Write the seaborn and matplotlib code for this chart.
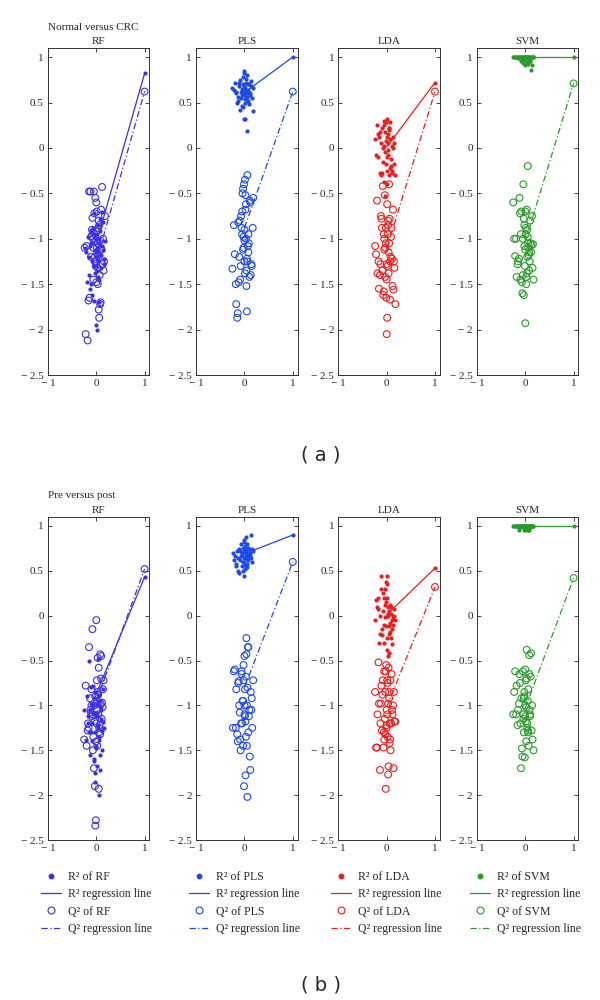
import matplotlib
matplotlib.use("Agg")
import matplotlib.pyplot as plt
from matplotlib.lines import Line2D
import seaborn as sns

# --- data ---------------------------------------------------------------
methods = ["RF", "PLS", "LDA", "SVM"]
row_titles = ["Normal versus CRC", "Pre versus post"]
panel_tags = ["( a )", "( b )"]
colors = ["#3b30e6", "#1f48ea", "#ee1c1c", "#2a9a2a"]

# original (non-permuted) model, plotted at x = 1
r2_orig_a = [0.82, 1.0, 0.72, 1.0]
q2_orig_a = [0.62, 0.62, 0.62, 0.71]
r2_orig_b = [0.43, 0.90, 0.53, 1.0]
q2_orig_b = [0.52, 0.60, 0.32, 0.42]

# regression line intercepts (x = 0)
r2_int_a = [-1.05, 0.61, 0.01, 1.0]
q2_int_a = [-1.25, -0.88, -1.11, -1.03]
r2_int_b = [-0.87, 0.69, 0.01, 1.0]
q2_int_b = [-0.95, -0.80, -1.02, -1.03]

# permutations: (a) Normal versus CRC
x_a_rf = [-0.22, -0.18, -0.15, -0.12, -0.1, -0.08, -0.06, -0.05, -0.04, -0.03, -0.02, -0.01, 0.0, 0.01, 0.02, 0.03, 0.04,
          0.05, 0.06, 0.08, 0.1, 0.12, 0.15, 0.18, -0.2, -0.14, -0.09, -0.07, -0.03, 0.0, 0.02, 0.05, 0.07, 0.09, 0.11,
          0.14, -0.16, -0.11, -0.04, 0.01, 0.03, 0.06, 0.13, -0.24, -0.06, 0.0, 0.04, 0.08, -0.1, 0.16]
r2_a_rf = [-1.15, -0.98, -1.4, -1.08, -0.9, -1.25, -1.05, -0.72, -1.3, -1.12, -0.95, -1.2, -1.0, -1.35, -1.1, -0.85, -1.22,
           -1.45, -1.05, -0.78, -1.18, -0.7, -1.28, -1.02, -1.48, -1.55, -1.62, -0.88, -1.38, -1.95, -1.15, -1.7, -0.92,
           -1.32, -1.08, -0.82, -1.2, -1.5, -1.68, -2.0, -1.25, -1.0, -1.12, -1.1, -0.95, -1.3, -1.42, -1.18, -1.05, -1.22]
q2_a_rf = [-2.05, -2.12, -0.48, -0.48, -0.98, -0.77, -1.1, -0.48, -0.72, -1.2, -0.55, -1.3, -0.6, -0.7, -1.05, -1.5, -0.88,
           -1.78, -1.87, -1.72, -0.68, -0.43, -1.35, -0.75, -1.08, -1.65, -0.9, -1.0, -1.25, -1.48, -1.15, -0.8, -1.4,
           -1.7, -1.12, -1.0, -1.68, -1.2, -0.95, -1.1, -1.32, -0.85, -1.28, -1.1, -1.45, -0.92, -1.18, -1.02, -0.97, -1.25]

x_a_pls = [-0.2, -0.17, -0.14, -0.12, -0.1, -0.08, -0.06, -0.05, -0.04, -0.03, -0.02, -0.01, 0.0, 0.0, 0.01, 0.02, 0.03,
           0.04, 0.05, 0.06, 0.07, 0.08, 0.1, 0.12, 0.14, 0.17, -0.22, -0.15, -0.09, -0.07, -0.02, 0.01, 0.03, 0.05, 0.09,
           0.11, 0.15, -0.18, -0.11, -0.05, 0.0, 0.04, 0.08, 0.13, -0.25, -0.13, 0.02, 0.06, -0.03, 0.18]
r2_a_pls = [0.72, 0.6, 0.52, 0.68, 0.75, 0.55, 0.65, 0.46, 0.7, 0.78, 0.58, 0.62, 0.85, 0.32, 0.66, 0.5, 0.72, 0.6, 0.8,
            0.56, 0.7, 0.64, 0.48, 0.58, 0.74, 0.66, 0.64, 0.5, 0.42, 0.62, 0.68, 0.54, 0.76, 0.19, 0.7, 0.6, 0.55, 0.62,
            0.72, 0.58, 0.82, 0.64, 0.52, 0.68, 0.66, 0.56, 0.32, 0.6, 0.45, 0.41]
q2_a_pls = [-1.17, -1.72, -1.82, -1.48, -0.8, -1.3, -0.88, -0.7, -0.5, -0.45, -0.98, -0.4, -1.25, -0.9, -0.35, -0.52, -1.0,
            -1.52, -1.8, -0.3, -1.08, -0.95, -1.42, -0.6, -1.28, -0.88, -0.85, -1.87, -1.45, -0.75, -1.1, -1.38, -0.62,
            -1.22, -1.05, -0.58, -1.3, -1.5, -1.2, -0.95, -1.02, -1.35, -1.15, -1.4, -1.33, -0.82, -0.68, -1.25, -1.12, -0.55]

x_a_lda = [-0.24, -0.2, -0.16, -0.13, -0.11, -0.09, -0.07, -0.06, -0.05, -0.04, -0.03, -0.02, -0.01, 0.0, 0.0, 0.01, 0.02,
           0.03, 0.04, 0.05, 0.06, 0.08, 0.1, 0.12, 0.15, 0.18, -0.22, -0.14, -0.1, -0.06, -0.02, 0.01, 0.03, 0.07, 0.09,
           0.13, 0.16, -0.17, -0.12, -0.08, 0.0, 0.05, 0.11, -0.03, 0.02, 0.14, -0.19, 0.07, -0.05, 0.04]
r2_a_lda = [0.1, 0.25, 0.12, -0.28, 0.05, 0.22, -0.15, 0.3, -0.38, 0.18, -0.05, 0.28, 0.08, -0.1, 0.32, -0.25, 0.15, -0.02,
            0.22, -0.3, 0.1, -0.2, 0.02, -0.28, 0.05, -0.3, -0.08, 0.18, -0.28, 0.25, -0.18, 0.12, -0.08, 0.28, -0.12, 0.0,
            -0.18, 0.15, -0.3, 0.0, -0.4, 0.22, -0.25, -0.53, 0.05, 0.12, -0.1, -0.22, 0.02, 0.2]
q2_a_lda = [-1.08, -0.58, -1.55, -1.28, -0.78, -1.35, -1.62, -0.95, -1.12, -0.52, -1.42, -0.88, -1.65, -1.28, -2.05, -0.62,
            -1.3, -0.85, -1.38, -1.05, -0.78, -1.2, -0.88, -1.52, -1.25, -1.72, -1.17, -1.4, -0.88, -1.58, -1.05, -1.87,
            -0.8, -1.25, -0.98, -0.68, -1.32, -1.25, -0.75, -0.42, -1.45, -0.4, -1.22, -1.1, -0.95, -1.56, -1.38, -1.67,
            -1.0, -1.15]

x_a_svm = [-0.25, -0.21, -0.18, -0.15, -0.12, -0.1, -0.08, -0.07, -0.05, -0.04, -0.03, -0.02, -0.01, 0.0, 0.0, 0.01, 0.02,
           0.03, 0.04, 0.05, 0.06, 0.08, 0.1, 0.12, 0.14, 0.17, -0.23, -0.16, -0.11, -0.06, -0.02, 0.01, 0.03, 0.05, 0.07,
           0.09, 0.11, 0.15, -0.13, -0.09, -0.03, 0.02, 0.06, 0.13, -0.19, 0.04, 0.08, -0.05, 0.0, 0.16]
r2_a_svm = [1.0, 1.0, 1.0, 1.0, 0.99, 1.0, 0.96, 1.0, 0.99, 0.94, 1.0, 0.98, 1.0, 0.91, 1.0, 0.99, 1.0, 0.95, 1.0, 0.92,
            1.0, 0.98, 0.96, 0.86, 1.0, 1.0, 1.0, 0.99, 1.0, 1.0, 0.97, 1.0, 1.0, 0.99, 1.0, 0.96, 1.0, 1.0, 1.0, 0.98,
            1.0, 1.0, 0.95, 0.91, 1.0, 1.0, 1.0, 0.97, 1.0, 1.0]
q2_a_svm = [-0.6, -1.19, -1.42, -1.25, -0.55, -1.45, -0.7, -1.48, -1.0, -0.4, -1.62, -0.85, -1.3, -1.93, -1.12, -0.95, -1.5,
            -0.68, -1.2, -0.2, -1.05, -1.35, -0.8, -1.15, -0.75, -1.45, -1.0, -1.28, -0.72, -1.6, -1.08, -0.88, -1.38,
            -0.98, -1.18, -1.25, -1.05, -1.32, -1.22, -0.95, -0.78, -1.42, -1.1, -1.07, -1.0, -0.9, -1.15, -1.4, -0.7, -1.06]

# permutations: (b) Pre versus post
x_b_rf = [-0.25, -0.22, -0.18, -0.15, -0.12, -0.1, -0.08, -0.07, -0.05, -0.04, -0.03, -0.02, -0.01, 0.0, 0.0, 0.01, 0.02,
          0.03, 0.04, 0.05, 0.06, 0.08, 0.1, 0.12, 0.15, -0.2, -0.16, -0.13, -0.09, -0.06, -0.02, 0.01, 0.03, 0.05, 0.07,
          0.09, 0.11, 0.14, -0.11, -0.04, 0.02, 0.06, 0.13, -0.17, 0.0, 0.04, 0.08, -0.07, -0.1, 0.1]
r2_b_rf = [-1.05, -1.38, -1.12, -0.5, -1.55, -0.8, -1.2, -1.0, -1.62, -0.92, -1.3, -1.75, -1.1, -0.85, -1.45, -1.68, -1.0,
           -1.22, -0.48, -2.0, -1.35, -0.95, -1.15, -1.5, -1.25, -0.9, -1.3, -1.05, -1.4, -0.78, -1.85, -1.12, -1.25, -0.88,
           -1.72, -1.05, -1.28, -1.18, -0.98, -1.6, -1.08, -1.38, -0.82, -1.2, -1.48, -0.95, -1.55, -1.1, -1.3, -1.02]
q2_b_rf = [-1.38, -0.78, -1.28, -0.35, -1.05, -0.82, -0.15, -1.5, -1.7, -1.0, -1.9, -0.9, -2.28, -0.05, -1.2, -0.72, -1.45,
           -0.47, -1.1, -0.58, -1.3, -0.43, -0.45, -0.97, -0.72, -1.45, -1.25, -0.92, -1.12, -1.35, -2.34, -1.05, -0.85,
           -1.93, -1.22, -0.98, -1.15, -0.82, -1.08, -1.18, -0.95, -1.25, -1.02, -1.2, -1.4, -0.88, -1.32, -1.1, -1.0, -0.7]

x_b_pls = [-0.24, -0.2, -0.17, -0.14, -0.12, -0.1, -0.08, -0.06, -0.05, -0.04, -0.03, -0.02, -0.01, 0.0, 0.0, 0.01, 0.02,
           0.03, 0.04, 0.05, 0.06, 0.07, 0.09, 0.11, 0.13, 0.16, -0.22, -0.15, -0.11, -0.07, -0.02, 0.01, 0.03, 0.05, 0.08,
           0.1, 0.12, 0.15, -0.18, -0.13, -0.09, 0.0, 0.04, 0.08, -0.03, 0.02, 0.06, 0.14, -0.06, 0.18]
r2_b_pls = [0.7, 0.66, 0.58, 0.5, 0.74, 0.62, 0.8, 0.55, 0.68, 0.76, 0.6, 0.44, 0.72, 0.84, 0.64, 0.52, 0.78, 0.66, 0.7,
            0.58, 0.8, 0.62, 0.74, 0.68, 0.9, 0.6, 0.62, 0.72, 0.48, 0.66, 0.82, 0.57, 0.72, 0.63, 0.76, 0.66, 0.7, 0.74,
            0.55, 0.64, 0.72, 0.6, 0.88, 0.68, 0.5, 0.76, 0.54, 0.64, 0.7, 0.72]
q2_b_pls = [-1.25, -0.6, -0.82, -1.4, -0.73, -1.08, -1.5, -0.62, -1.2, -0.95, -1.45, -0.72, -1.9, -1.1, -0.45, -0.82, -1.78,
            -1.35, -0.25, -1.0, -2.02, -0.35, -1.12, -1.57, -0.85, -1.25, -0.62, -1.32, -1.0, -1.2, -0.55, -1.12, -0.68,
            -1.45, -0.35, -1.05, -1.72, -0.92, -1.25, -0.75, -1.38, -1.0, -0.43, -1.3, -0.95, -1.18, -0.8, -1.05, -0.65, -0.72]

x_b_lda = [-0.24, -0.2, -0.17, -0.14, -0.12, -0.1, -0.08, -0.07, -0.05, -0.04, -0.03, -0.02, -0.01, 0.0, 0.0, 0.01, 0.02,
           0.03, 0.04, 0.05, 0.06, 0.08, 0.1, 0.12, 0.15, 0.18, -0.22, -0.16, -0.11, -0.06, -0.02, 0.01, 0.03, 0.05, 0.07,
           0.09, 0.11, 0.14, -0.13, -0.09, -0.03, 0.02, 0.06, 0.13, -0.19, 0.04, 0.0, 0.08, -0.05, 0.16]
r2_b_lda = [-0.05, 0.1, 0.2, -0.2, 0.44, -0.15, 0.05, 0.25, -0.3, 0.12, -0.02, 0.38, -0.12, 0.2, -0.25, 0.44, 0.0, 0.1,
            -0.2, 0.05, -0.08, 0.02, -0.15, -0.32, 0.08, -0.05, 0.18, -0.3, 0.3, -0.1, 0.15, -0.38, 0.02, -0.42, -0.18, 0.1,
            -0.05, -0.1, 0.0, -0.22, 0.3, -0.45, 0.12, -0.02, 0.08, -0.12, 0.35, -0.25, 0.2, 0.0]
q2_b_lda = [-0.85, -1.47, -0.52, -1.72, -0.98, -1.28, -0.72, -1.47, -0.62, -1.15, -0.85, -1.93, -0.55, -1.22, -1.05, -0.72,
            -1.35, -0.98, -1.68, -0.85, -1.2, -1.5, -0.65, -1.1, -0.85, -1.18, -1.47, -0.98, -0.78, -1.3, -0.62, -1.1,
            -1.77, -0.92, -1.38, -1.2, -1.05, -1.7, -1.2, -0.88, -1.32, -0.75, -1.42, -1.0, -1.1, -0.58, -1.25, -0.72,
            -1.38, -1.18]

x_b_svm = [-0.25, -0.21, -0.18, -0.15, -0.12, -0.1, -0.08, -0.07, -0.05, -0.04, -0.03, -0.02, -0.01, 0.0, 0.0, 0.01, 0.02,
           0.03, 0.04, 0.05, 0.06, 0.08, 0.1, 0.12, 0.15, -0.23, -0.16, -0.13, -0.09, -0.06, -0.02, 0.01, 0.03, 0.05, 0.07,
           0.09, 0.11, 0.14, -0.11, -0.04, 0.02, 0.06, 0.13, -0.19, 0.0, 0.04, 0.08, -0.03, 0.17, 0.1]
r2_b_svm = [1.0, 1.0, 1.0, 1.0, 0.96, 1.0, 1.0, 1.0, 0.99, 1.0, 0.96, 1.0, 1.0, 1.0, 0.96, 1.0, 0.99, 1.0, 1.0, 1.0, 1.0,
            0.96, 1.0, 1.0, 1.0, 1.0, 1.0, 0.98, 1.0, 1.0, 0.99, 1.0, 1.0, 0.96, 1.0, 1.0, 1.0, 1.0, 1.0, 1.0, 1.0, 0.96,
            1.0, 1.0, 1.0, 1.0, 0.97, 1.0, 1.0, 1.0]
q2_b_svm = [-1.1, -0.62, -0.78, -1.05, -0.65, -1.2, -0.92, -1.48, -0.62, -1.1, -1.3, -0.85, -1.58, -1.0, -1.12, -0.72, -1.4,
            -0.38, -1.2, -0.95, -1.3, -0.65, -1.1, -0.42, -1.38, -0.85, -1.22, -0.98, -1.7, -1.57, -0.9, -1.18, -0.7,
            -1.28, -1.45, -1.05, -0.68, -1.0, -0.75, -1.15, -1.02, -0.82, -1.28, -1.1, -0.6, -1.25, -0.44, -0.92, -1.5, -1.12]

yticks = [-2.5, -2, -1.5, -1, -0.5, 0, 0.5, 1]
xticks = [-1, 0, 1]

# --- plotting -----------------------------------------------------------
sns.set_style("ticks")
plt.rcParams["font.family"] = ["Liberation Serif", "DejaVu Sans"]

rows = [
    (x_a_rf, x_a_pls, x_a_lda, x_a_svm),
    (x_b_rf, x_b_pls, x_b_lda, x_b_svm),
]
r2_rows = [(r2_a_rf, r2_a_pls, r2_a_lda, r2_a_svm), (r2_b_rf, r2_b_pls, r2_b_lda, r2_b_svm)]
q2_rows = [(q2_a_rf, q2_a_pls, q2_a_lda, q2_a_svm), (q2_b_rf, q2_b_pls, q2_b_lda, q2_b_svm)]
r2_orig = [r2_orig_a, r2_orig_b]
q2_orig = [q2_orig_a, q2_orig_b]
r2_int = [r2_int_a, r2_int_b]
q2_int = [q2_int_a, q2_int_b]

fig = plt.figure(figsize=(6, 10), dpi=100)

col_left = [0.080, 0.327, 0.564, 0.795]
col_w = 0.169
row_bottom = [0.625, 0.160]
row_h = [0.327, 0.323]
dashdot = (0, (5, 2, 1, 2))


def fmt(v):
    s = f"{abs(v):g}"
    return ("\u2212 " + s) if v < 0 else s


for r in range(2):
    for c, m in enumerate(methods):
        ax = fig.add_axes([col_left[c], row_bottom[r], col_w, row_h[r]])
        col = colors[c]
        # regression lines
        sns.lineplot(x=[0, 1], y=[r2_int[r][c], r2_orig[r][c]], ax=ax, color=col, lw=0.9)
        sns.lineplot(x=[0, 1], y=[q2_int[r][c], q2_orig[r][c]], ax=ax, color=col, lw=0.9, linestyle=dashdot)
        # permuted R2 / Q2
        sns.scatterplot(x=rows[r][c], y=q2_rows[r][c], ax=ax, s=24, marker="o",
                        facecolor="none", edgecolor=col, linewidth=0.8, legend=False)
        sns.scatterplot(x=rows[r][c], y=r2_rows[r][c], ax=ax, s=9, color=col, linewidth=0, legend=False)
        # original model
        sns.scatterplot(x=[1], y=[q2_orig[r][c]], ax=ax, s=24, marker="o",
                        facecolor="none", edgecolor=col, linewidth=0.8, legend=False)
        sns.scatterplot(x=[1], y=[r2_orig[r][c]], ax=ax, s=9, color=col, linewidth=0, legend=False)

        ax.set_xlim(-1, 1.1)
        ax.set_ylim(-2.5, 1.1)
        ax.set_xticks(xticks)
        ax.set_xticklabels([fmt(v) for v in xticks])
        ax.set_yticks(yticks)
        ax.set_yticklabels([fmt(v) for v in yticks])
        ax.tick_params(direction="in", length=3, width=0.6, labelsize=8,
                       top=True, right=True, pad=3)
        for sp in ax.spines.values():
            sp.set_linewidth(0.7)
            sp.set_color("#333333")
        ax.set_xlabel("")
        ax.set_ylabel("")
        ax.set_title(m, fontsize=8, pad=3)

        if r == 1:
            handles = [
                Line2D([], [], ls="", marker="o", ms=3.2, color=col, mec=col),
                Line2D([], [], ls="-", lw=0.9, color=col),
                Line2D([], [], ls="", marker="o", ms=5, mfc="none", mec=col, mew=0.8),
                Line2D([], [], ls=dashdot, lw=0.9, color=col),
            ]
            labels = [f"R\u00b2 of {m}", "R\u00b2 regression line",
                      f"Q\u00b2 of {m}", "Q\u00b2 regression line"]
            fig.legend(handles, labels, loc="upper left",
                       bbox_to_anchor=(col_left[c] - 0.012, 0.129),
                       frameon=False, fontsize=8.5, handlelength=1.7,
                       handletextpad=0.6, labelspacing=0.45,
                       borderpad=0, borderaxespad=0)

    fig.text(col_left[0], row_bottom[r] + row_h[r] + 0.021, row_titles[r],
             fontsize=8, ha="left", va="center")

fig.text(0.535, 0.545, panel_tags[0], family="DejaVu Sans", fontsize=14,
         ha="center", va="center")
fig.text(0.535, 0.015, panel_tags[1], family="DejaVu Sans", fontsize=14,
         ha="center", va="center")

plt.savefig("out.png", dpi=100)
